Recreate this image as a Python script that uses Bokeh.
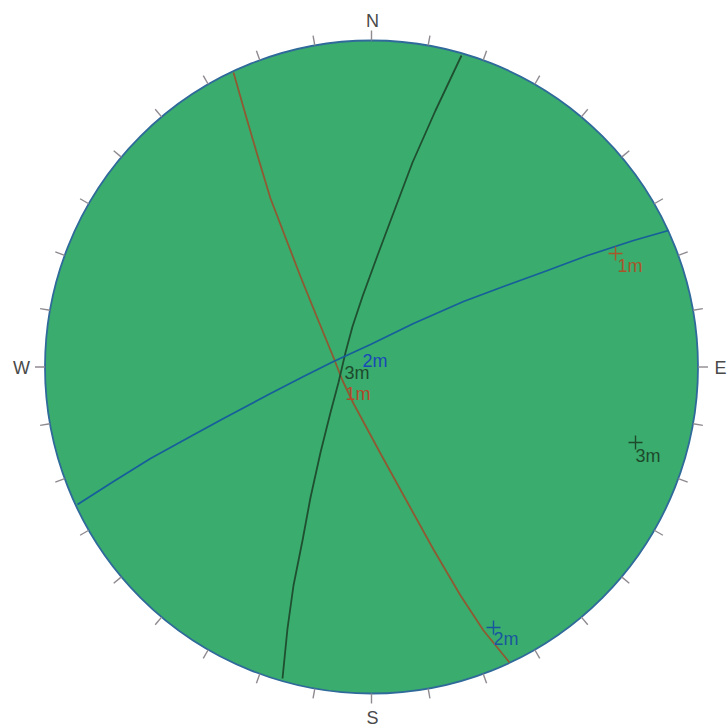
from bokeh.plotting import figure
from bokeh.embed import file_html
from bokeh.resources import INLINE
from bokeh.core.properties import value
from bokeh.models import Range1d
import numpy as np

# All positions, in picture pixels (y grows downward)
net_x, net_y, net_radius = 371, 366.5, 326.5
tick_azimuths = list(range(0, 360, 10))
tick_length = 10
cardinals = ["N", "E", "S", "W"]
cardinal_x = [372, 720, 372, 21]
cardinal_y = [20, 367, 717, 367]

plane1_x = [233, 245, 257, 270, 285, 300, 317, 333, 342, 353, 380, 407, 433, 460, 483, 509]
plane1_y = [72, 114, 155, 198, 237, 276, 318, 357, 380, 403, 453, 502, 549, 595, 630, 662]
plane3_x = [461, 435, 412, 392, 377, 362, 352, 345, 338, 330, 320, 310, 302, 293, 287, 282]
plane3_y = [55, 110, 162, 215, 255, 296, 326, 352, 382, 412, 452, 497, 540, 585, 628, 678]
plane2_x = [77, 113, 150, 190, 223, 270, 303, 333, 370, 413, 463, 503, 547, 587, 633, 668]
plane2_y = [504, 481, 458, 436, 418, 393, 376, 361, 344, 323, 301, 286, 270, 255, 240, 230]

plane_colors = ["#8f5a33", "#165f9a", "#1f4f30"]

pole_x = [615, 493, 635]
pole_y = [253, 627, 442]
pole_colors = ["#a8552a", "#17569f", "#1d4a2c"]
pole_label_x = [617, 493, 635]
pole_label_y = [265, 638, 455]
pole_labels = ["1m", "2m", "3m"]

centre_labels = ["1m", "2m", "3m"]
centre_x = [345, 362, 344]
centre_y = [393, 360, 372]
centre_colors = ["#b4482a", "#1848b8", "#1d4a2c"]

W, H = 728, 727

p = figure(width=W, height=H, output_backend="svg", toolbar_location=None,
           x_range=Range1d(0, W), y_range=Range1d(H, 0),
           min_border=0, outline_line_color=None)
p.axis.visible = False
p.grid.visible = False
p.background_fill_color = "white"
p.border_fill_color = "white"

p.circle(x=[net_x], y=[net_y], radius=net_radius, fill_color="#3aac6d",
         line_color="#2f6a9a", line_width=1.8)

az = np.radians(tick_azimuths)
p.segment(net_x + net_radius * np.sin(az), net_y - net_radius * np.cos(az),
          net_x + (net_radius + tick_length) * np.sin(az), net_y - (net_radius + tick_length) * np.cos(az),
          line_color="#8f8a90", line_width=1.4)

for xs, ys, c in zip([plane1_x, plane3_x, plane2_x], [plane1_y, plane3_y, plane2_y],
                     [plane_colors[0], plane_colors[2], plane_colors[1]]):
    p.line(xs, ys, line_color=c, line_width=1.8, line_join="round")

font = value("Liberation Sans")
p.text(cardinal_x, cardinal_y, text=cardinals, text_font=font, text_font_size="18px",
       text_color="#4a4a4a", text_align="center", text_baseline="middle")

p.scatter(pole_x, pole_y, marker="cross", size=14, fill_color=None,
          line_color=pole_colors, line_width=1.4)
p.text(pole_label_x, pole_label_y, text=pole_labels, text_font=font,
       text_font_size="18px", text_color=pole_colors, text_align="left", text_baseline="middle")
p.text(centre_x, centre_y, text=centre_labels, text_font=font, text_font_size="18px",
       text_color=centre_colors, text_align="left", text_baseline="middle")

html = file_html(p, INLINE)
html = html.replace("<head>", "<head><style>html,body{margin:0;padding:0;overflow:hidden}</style>", 1)
open("out.html", "w").write(html)
